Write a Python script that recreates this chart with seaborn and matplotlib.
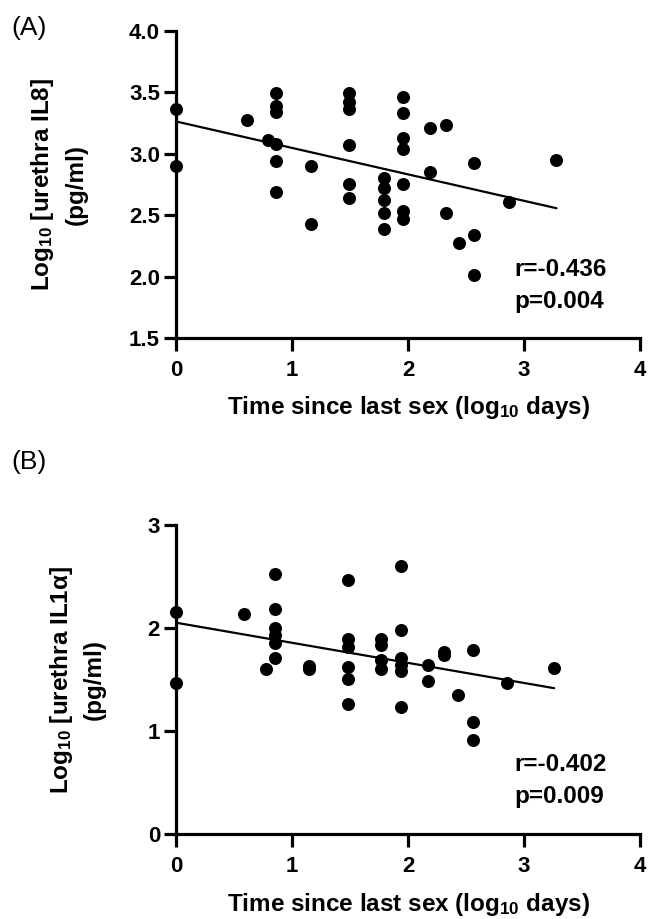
import numpy as np
import pandas as pd
import matplotlib
matplotlib.use("Agg")
import matplotlib.pyplot as plt
import seaborn as sns

# Panel A: urethral IL8 vs time since last sex
days_a = [0.00, 0.00, 0.61, 0.79, 0.86, 0.86, 0.86, 0.86, 0.86, 0.86,
          1.16, 1.16, 1.49, 1.49, 1.49, 1.49, 1.49, 1.49,
          1.79, 1.79, 1.79, 1.79, 1.79,
          1.96, 1.96, 1.96, 1.96, 1.96, 1.96, 1.96,
          2.19, 2.19, 2.33, 2.33, 2.44, 2.57, 2.57, 2.57, 2.87, 3.28]
il8 = [3.36, 2.90, 3.27, 3.11, 3.49, 3.39, 3.34, 3.08, 2.94, 2.69,
       2.90, 2.43, 3.49, 3.42, 3.36, 3.07, 2.75, 2.64,
       2.80, 2.72, 2.62, 2.52, 2.39,
       3.46, 3.33, 3.13, 3.04, 2.75, 2.53, 2.47,
       3.21, 2.85, 3.23, 2.52, 2.27, 2.92, 2.34, 2.01, 2.61, 2.95]

# Panel B: urethral IL1-alpha vs time since last sex
days_b = [0.00, 0.00, 0.59, 0.78, 0.85, 0.85, 0.85, 0.85, 0.85, 0.85,
          1.15, 1.15, 1.48, 1.48, 1.48, 1.48, 1.48, 1.48,
          1.77, 1.77, 1.77, 1.77,
          1.94, 1.94, 1.94, 1.94, 1.94, 1.94,
          2.17, 2.17, 2.31, 2.31, 2.43, 2.56, 2.56, 2.56, 2.85, 3.26]
il1a = [2.16, 1.47, 2.14, 1.60, 2.52, 2.19, 2.00, 1.93, 1.86, 1.71,
        1.63, 1.60, 2.47, 1.89, 1.82, 1.62, 1.51, 1.26,
        1.89, 1.84, 1.69, 1.60,
        2.60, 1.98, 1.71, 1.64, 1.58, 1.23,
        1.64, 1.49, 1.77, 1.74, 1.35, 1.79, 1.09, 0.91, 1.47, 1.61]

stats_a = ["r=-0.436", "p=0.004"]
stats_b = ["r=-0.402", "p=0.009"]

x_ticks = [0, 1, 2, 3, 4]
y_ticks_a = [1.5, 2.0, 2.5, 3.0, 3.5, 4.0]
y_ticks_b = [0, 1, 2, 3]

sns.set_theme(style="ticks")
plt.rcParams["font.family"] = ["Liberation Sans", "DejaVu Sans"]
plt.rcParams["mathtext.fontset"] = "custom"
plt.rcParams["mathtext.rm"] = "Liberation Sans:bold"
plt.rcParams["mathtext.bf"] = "Liberation Sans:bold"
plt.rcParams["mathtext.default"] = "bf"
for key in ("text.color", "axes.labelcolor", "xtick.color", "ytick.color",
            "axes.edgecolor"):
    plt.rcParams[key] = "black"

fig = plt.figure(figsize=(6.48, 9.19), dpi=100)
fig.patch.set_facecolor("white")

xlabel = r"Time since last sex (log$_{10}$ days)"


def panel(rect, x, y, yticks, ylim, ylabel, stats, stat_y, yfmt):
    ax = fig.add_axes(rect)
    df = pd.DataFrame({"x": x, "y": y})
    sns.regplot(data=df, x="x", y="y", ax=ax, ci=None, truncate=True,
                color="black",
                scatter_kws=dict(s=88, alpha=1, linewidths=0, clip_on=False,
                                 zorder=3),
                line_kws=dict(lw=1.6, color="black", zorder=2))
    ax.set_xlim(0, 4)
    ax.set_ylim(*ylim)
    ax.set_xticks(x_ticks)
    ax.set_yticks(yticks)
    ax.set_yticklabels([yfmt.format(v) for v in yticks])
    for side in ("top", "right"):
        ax.spines[side].set_visible(False)
    for side in ("left", "bottom"):
        ax.spines[side].set_linewidth(2.3)
        ax.spines[side].set_color("black")
    ax.tick_params(axis="both", length=9, width=2.3, color="black",
                   labelsize=16)
    ax.tick_params(axis="x", pad=6.5)
    ax.tick_params(axis="y", pad=2.5)
    for lab in ax.get_xticklabels() + ax.get_yticklabels():
        lab.set_fontweight("bold")
    ax.set_xlabel(xlabel, fontsize=17.5, fontweight="bold", labelpad=10)
    ax.set_ylabel(ylabel, fontsize=17.5, fontweight="bold", labelpad=30,
                  linespacing=1.45)
    for txt, sy in zip(stats, stat_y):
        ax.text(2.92, sy, txt, fontsize=17.5, fontweight="bold",
                ha="left", va="center")
    return ax


ax_a = panel([176 / 648, 1 - 338 / 919, 464 / 648, 307.3 / 919],
             days_a, il8, y_ticks_a, (1.5, 4.0),
             "Log$_{10}$ [urethra IL8]\n(pg/ml)",
             stats_a, [2.06, 1.80], "{:.1f}")
ax_b = panel([176 / 648, 1 - 834.3 / 919, 464 / 648, 309.3 / 919],
             days_b, il1a, y_ticks_b, (0, 3),
             "Log$_{10}$ [urethra IL1α]\n(pg/ml)",
             stats_b, [0.68, 0.37], "{:.0f}")

fig.text(11 / 648, 1 - 28 / 919, "(A)", fontsize=19, va="center", ha="left")
fig.text(11 / 648, 1 - 462 / 919, "(B)", fontsize=19, va="center", ha="left")

fig.savefig("out.png", dpi=100, facecolor="white")
